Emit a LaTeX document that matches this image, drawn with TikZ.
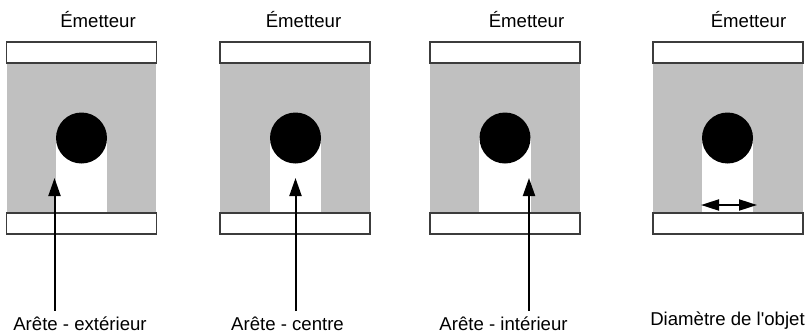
\documentclass[tikz,border=0pt]{standalone}
\usepackage{fontspec}
\setmainfont{Liberation Sans}
\definecolor{beamgray}{RGB}{192, 192, 192}
\definecolor{edgegray}{RGB}{60, 60, 60}
\usetikzlibrary{shapes, arrows.meta, positioning, calc}

\begin{document}
\begin{tikzpicture}[x=0.5pt, y=-0.5pt,
  bar/.style={draw=edgegray, fill=white, line width=0.6pt, minimum width=75pt, minimum height=10.5pt, inner sep=0pt},
  lbl/.style={font=\fontsize{9.3}{11}\selectfont, inner sep=0pt, anchor=base},
  pointer/.style={line width=1pt, -{Triangle[length=9pt, width=6pt]}, shorten <=2.5pt}]
  \useasboundingbox (0,0) rectangle (812,332);

  % beam areas, shadow of the object, object
  \fill[beamgray] (7,63) rectangle (156,213);
  \fill[white] (56,138) rectangle (107,213);
  \fill (81.5,138) circle (12.75pt);
  \fill[beamgray] (220,63) rectangle (370,213);
  \fill[white] (270,138) rectangle (321,213);
  \fill (295.5,138) circle (12.75pt);
  \fill[beamgray] (430,63) rectangle (580,213);
  \fill[white] (479,138) rectangle (531,213);
  \fill (505,138) circle (12.75pt);
  \fill[beamgray] (653,63) rectangle (803,213);
  \fill[white] (702,138) rectangle (753,213);
  \fill (727.5,138) circle (12.75pt);

  % emitter and receiver bars
  \node[bar] (top1) at (81.5,52.5) {};
  \node[bar] (bot1) at (81.5,223.5) {};
  \node[bar] (top2) at (295,52.5) {};
  \node[bar] (bot2) at (295,223.5) {};
  \node[bar] (top3) at (505,52.5) {};
  \node[bar] (bot3) at (505,223.5) {};
  \node[bar] (top4) at (728,52.5) {};
  \node[bar] (bot4) at (728,223.5) {};

  \node[lbl] (em1) at (98,27) {Émetteur};
  \node[lbl] (em2) at (303.5,27) {Émetteur};
  \node[lbl] (em3) at (526.5,27) {Émetteur};
  \node[lbl] (em4) at (748.5,27) {Émetteur};

  \node[lbl] (lab1) at (80,330) {Arête - extérieur};
  \node[lbl] (lab2) at (287.5,330) {Arête - centre};
  \node[lbl] (lab3) at (503.5,330) {Arête - intérieur};
  \node[lbl] (lab4) at (727.5,325) {Diamètre de l\textquotesingle objet};

  % pointers
  \coordinate (tip1) at (54.5,178);
  \coordinate (tip2) at (295.5,178);
  \coordinate (tip3) at (529,178);
  \draw[pointer] (tip1 |- lab1.north) -- (tip1);
  \draw[pointer] (tip2 |- lab2.north) -- (tip2);
  \draw[pointer] (tip3 |- lab3.north) -- (tip3);

  \coordinate (dl) at (701,205);
  \coordinate (dr) at (757,205);
  \draw[line width=1pt, {Triangle[length=9pt, width=5.5pt]}-{Triangle[length=9pt, width=5.5pt]}] (dl) -- (dr);
\end{tikzpicture}
\end{document}
